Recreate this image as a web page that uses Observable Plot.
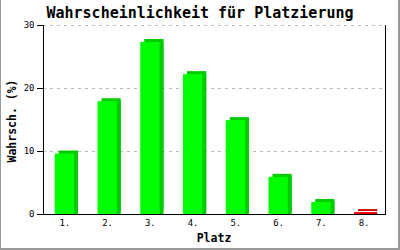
<!DOCTYPE html>
<html>
<head>
<meta charset="utf-8">
<script src="https://cdn.jsdelivr.net/npm/d3@7"></script>
<script src="https://cdn.jsdelivr.net/npm/@observablehq/plot@0.6"></script>
<style>
  html, body { margin: 0; padding: 0; background: #fff; }
  #wrap { position: relative; width: 400px; height: 250px; overflow: hidden; background: #fff; }
  #frame { position: absolute; left: 0; top: 0; width: 400px; height: 250px; box-sizing: border-box;
           border-left: 1px solid #999; border-right: 2px solid #999; border-bottom: 2px solid #999; pointer-events: none; }
  .t { position: absolute; font-family: "DejaVu Sans Mono", "Liberation Mono", monospace; font-weight: bold; color: #000; white-space: nowrap; }
  #title { left: 0; width: 400px; top: 4px; text-align: center; font-size: 15px; }
  #xlabel { left: 43px; width: 342px; top: 231px; text-align: center; font-size: 11.5px; }
  #ylabel { left: 12px; top: 121px; font-size: 11.5px; transform: translate(-50%, -50%) rotate(-90deg); }
  svg { position: absolute; left: 0; top: 0; }
</style>
</head>
<body>
<div id="wrap">
  <div id="chart"></div>
  <div class="t" id="title">Wahrscheinlichkeit für Platzierung</div>
  <div class="t" id="xlabel">Platz</div>
  <div class="t" id="ylabel">Wahrsch. (%)</div>
  <div id="frame"></div>
</div>
<script>
const places = ["1.", "2.", "3.", "4.", "5.", "6.", "7.", "8."];
const probabilities = [9.6, 17.9, 27.3, 22.2, 14.9, 5.9, 1.9, 0.3];
const highlight = [false, false, false, false, false, false, false, true];
const yTicks = [0, 10, 20, 30];

const data = places.map((p, i) => ({ place: p, value: probabilities[i], red: highlight[i] }));
const front = d => d.red ? "#ff0000" : "#00ff00";
const side = d => d.red ? "#cc0000" : "#00cc00";

const chart = Plot.plot({
  width: 400,
  height: 250,
  marginTop: 25,
  marginRight: 15,
  marginBottom: 36,
  marginLeft: 43,
  style: { fontFamily: "'DejaVu Sans Mono', monospace", fontSize: "9px", background: "transparent" },
  x: { domain: places, paddingInner: 0.55, paddingOuter: 0.275, round: false, label: null },
  y: { domain: [0, 30], label: null },
  marks: [
    Plot.ruleY(yTicks.filter(t => t > 0), { stroke: "#bbb", strokeDasharray: "3,4", strokeWidth: 1 }),
    Plot.barY(data, { x: "place", y: "value", fill: side, dx: 4, dy: -3 }),
    Plot.barY(data, { x: "place", y: "value", fill: side, dx: 4 }),
    Plot.barY(data, { x: "place", y: "value", fill: front }),
    Plot.axisY({ ticks: yTicks, tickSize: 6, tickPadding: 3, fontSize: 9, label: null }),
    Plot.ruleY([0], { stroke: "#000", strokeWidth: 1 }),
    Plot.axisX({ tickSize: 0, tickPadding: 5, fontSize: 9, label: null }),
    Plot.frame({ anchor: "left", stroke: "#000" }),
    Plot.frame({ anchor: "right", stroke: "#000" })
  ]
});
document.getElementById("chart").appendChild(chart);
</script>
</body>
</html>
